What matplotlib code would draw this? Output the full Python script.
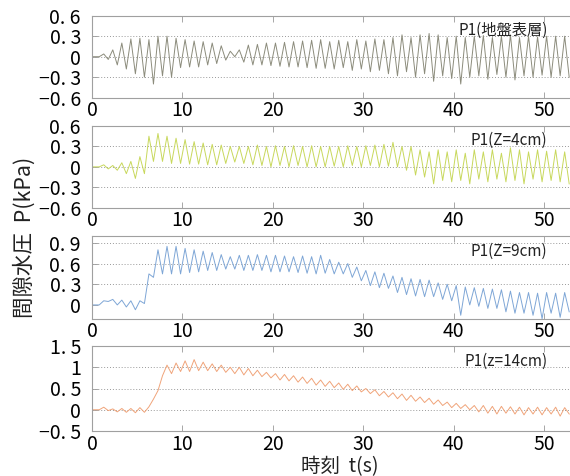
import numpy as np
import matplotlib
matplotlib.use("Agg")
import matplotlib.pyplot as plt

plt.rcParams['font.family'] = ['Liberation Sans Narrow', 'Noto Sans CJK JP', 'DejaVu Sans']

# cycle start times (s); peak read at +0.3 s, trough at +0.8 s
cycle_t = np.arange(0, 53)

# Panel 1: P1 (地盤表層)
p1_peak = [0.0, 0.04, 0.10, 0.20, 0.26, 0.27, 0.25, 0.30, 0.30, 0.27,
           0.25, 0.23, 0.22, 0.20, 0.16, 0.08, 0.10, 0.17, 0.18, 0.20,
           0.20, 0.21, 0.22, 0.23, 0.24, 0.25, 0.22, 0.24, 0.22, 0.25,
           0.23, 0.26, 0.25, 0.28, 0.32, 0.28, 0.32, 0.34, 0.32, 0.28,
           0.30, 0.28, 0.30, 0.31, 0.28, 0.30, 0.32, 0.28, 0.30, 0.29,
           0.30, 0.30, 0.30]
p1_trough = [0.0, -0.04, -0.12, -0.18, -0.25, -0.30, -0.40, -0.28, -0.30, -0.16,
             -0.15, -0.15, -0.12, -0.10, -0.05, 0.0, -0.08, -0.12, -0.12, -0.13,
             -0.14, -0.15, -0.15, -0.16, -0.17, -0.17, -0.18, -0.16, -0.20, -0.18,
             -0.22, -0.20, -0.25, -0.28, -0.22, -0.30, -0.25, -0.36, -0.28, -0.32,
             -0.40, -0.30, -0.28, -0.33, -0.26, -0.30, -0.34, -0.28, -0.30, -0.27,
             -0.30, -0.28, -0.30]

# Panel 2: P1 (Z=4cm)
p2_peak = [0.0, 0.03, 0.02, 0.06, 0.08, 0.15, 0.45, 0.49, 0.45, 0.42,
           0.40, 0.37, 0.35, 0.33, 0.32, 0.30, 0.30, 0.30, 0.32, 0.30,
           0.31, 0.30, 0.31, 0.30, 0.31, 0.30, 0.30, 0.30, 0.31, 0.30,
           0.31, 0.32, 0.33, 0.36, 0.30, 0.30, 0.25, 0.22, 0.25, 0.22,
           0.25, 0.20, 0.25, 0.22, 0.25, 0.20, 0.28, 0.25, 0.22, 0.25,
           0.23, 0.25, 0.22]
p2_trough = [0.0, -0.03, -0.05, -0.10, -0.17, -0.10, 0.08, 0.08, 0.05, 0.05,
             0.04, 0.04, 0.03, 0.03, 0.05, 0.07, 0.05, 0.03, 0.02, 0.0,
             0.02, 0.0, 0.02, 0.0, 0.0, 0.0, 0.01, 0.0, 0.02, 0.0,
             0.02, 0.0, 0.01, 0.0, -0.05, -0.12, -0.15, -0.25, -0.20, -0.22,
             -0.20, -0.25, -0.18, -0.22, -0.18, -0.22, -0.20, -0.25, -0.18, -0.22,
             -0.20, -0.22, -0.25]

# Panel 3: P1 (Z=9cm)
p3_peak = [0.0, 0.06, 0.08, 0.07, 0.06, 0.06, 0.45, 0.80, 0.85, 0.85,
           0.82, 0.80, 0.78, 0.76, 0.73, 0.70, 0.72, 0.72, 0.73, 0.72,
           0.72, 0.71, 0.70, 0.71, 0.70, 0.72, 0.66, 0.62, 0.60, 0.55,
           0.50, 0.48, 0.46, 0.42, 0.40, 0.38, 0.37, 0.36, 0.32, 0.30,
           0.28, 0.26, 0.25, 0.24, 0.23, 0.22, 0.20, 0.18, 0.18, 0.17,
           0.18, 0.17, 0.18]
p3_trough = [0.0, 0.05, 0.0, -0.03, -0.07, 0.02, 0.40, 0.45, 0.45, 0.45,
             0.47, 0.48, 0.50, 0.50, 0.52, 0.52, 0.50, 0.50, 0.50, 0.48,
             0.48, 0.48, 0.47, 0.46, 0.45, 0.46, 0.45, 0.45, 0.40, 0.35,
             0.28, 0.25, 0.24, 0.18, 0.15, 0.13, 0.12, 0.12, 0.08, 0.06,
             -0.15, 0.0, -0.02, -0.05, -0.05, -0.10, -0.12, -0.12, -0.15, -0.20,
             -0.12, -0.18, -0.10]

# Panel 4: P1 (z=14cm)
p4_peak = [0.0, 0.06, 0.02, 0.03, 0.03, 0.05, 0.07, 0.45, 1.05, 1.10,
           1.15, 1.18, 1.12, 1.08, 1.05, 1.00, 1.00, 0.97, 0.93, 0.88,
           0.85, 0.83, 0.80, 0.77, 0.74, 0.70, 0.67, 0.63, 0.60, 0.56,
           0.50, 0.47, 0.43, 0.40, 0.37, 0.34, 0.30, 0.27, 0.23, 0.18,
           0.15, 0.12, 0.10, 0.10, 0.08, 0.08, 0.07, 0.06, 0.05, 0.06,
           0.05, 0.06, 0.05]
p4_trough = [0.0, -0.02, -0.05, -0.06, -0.07, -0.06, 0.25, 0.80, 0.85, 0.90,
             0.90, 0.92, 0.92, 0.90, 0.88, 0.85, 0.82, 0.80, 0.78, 0.75,
             0.70, 0.68, 0.65, 0.62, 0.58, 0.55, 0.52, 0.48, 0.45, 0.42,
             0.38, 0.33, 0.30, 0.26, 0.22, 0.20, 0.17, 0.13, 0.10, 0.05,
             0.03, 0.0, -0.05, -0.08, -0.10, -0.08, -0.10, -0.12, -0.10, -0.12,
             -0.10, -0.15, -0.10]

panel_labels = ["P1(地盤表層)", "P1(Z=4cm)", "P1(Z=9cm)", "P1(z=14cm)"]
panel_ylims = [(-0.6, 0.6), (-0.6, 0.6), (-0.2, 1.0), (-0.5, 1.5)]
panel_yticks = [[-0.6, -0.3, 0, 0.3, 0.6], [-0.6, -0.3, 0, 0.3, 0.6],
                [0, 0.3, 0.6, 0.9], [-0.5, 0, 0.5, 1, 1.5]]
panel_yticklabels = [["−0. 6", "−0. 3", "0", "0. 3", "0. 6"],
                     ["−0. 6", "−0. 3", "0", "0. 3", "0. 6"],
                     ["0", "0. 3", "0. 6", "0. 9"],
                     ["−0. 5", "0", "0. 5", "1", "1. 5"]]
x_ticks = [0, 10, 20, 30, 40, 50]
colors = ["#8c8c7c", "#c8d85c", "#7ea6d6", "#f0a47a"]
peaks = [p1_peak, p2_peak, p3_peak, p4_peak]
troughs = [p1_trough, p2_trough, p3_trough, p4_trough]

W, H = 570, 476
fig = plt.figure(figsize=(W / 100, H / 100), dpi=100)

left_px, right_px = 92, 571
panel_px = [(15.7, 97.7), (126, 207.7), (236, 318.7), (346, 431)]

for i in range(4):
    top, bot = panel_px[i]
    ax = fig.add_axes([left_px / W, 1 - bot / H, (right_px - left_px) / W, (bot - top) / H])
    t = np.empty(2 * len(cycle_t))
    v = np.empty(2 * len(cycle_t))
    t[0::2] = cycle_t + 0.3
    t[1::2] = cycle_t + 0.8
    v[0::2] = peaks[i]
    v[1::2] = troughs[i]
    t = np.concatenate([[0.0], t])
    v = np.concatenate([[0.0], v])
    ax.plot(t, v, color=colors[i], lw=0.7)
    ax.set_xlim(0, 53)
    ax.set_ylim(*panel_ylims[i])
    ax.set_yticks(panel_yticks[i])
    ax.set_yticklabels(panel_yticklabels[i])
    ax.set_xticks(x_ticks)
    ax.set_xticklabels([str(x) for x in x_ticks])
    ax.tick_params(direction='in', length=4, width=0.6, color='#999999',
                   labelsize=14, top=True, right=False)
    ax.tick_params(axis='y', pad=8)
    ax.tick_params(axis='x', pad=2)
    for yv in panel_yticks[i][1:-1]:
        ax.axhline(yv, color='#999999', lw=0.7, ls=(0, (1, 2)), zorder=0)
    if i == 2:
        ax.axhline(0.9, color='#999999', lw=0.7, ls=(0, (1, 2)), zorder=0)
    for s in ax.spines.values():
        s.set_color('#a0a0a0')
        s.set_linewidth(0.8)
    ax.spines['right'].set_visible(False)
    yl = panel_ylims[i]
    ax.text(50.4, yl[0] + (yl[1] - yl[0]) * 0.82, panel_labels[i],
            ha='right', va='center', fontsize=11, color='#222222')

fig.text(25 / W, 1 - 237 / H, "間隙水圧  P(kPa)", rotation=90, ha='center', va='center',
         fontsize=15.5, color='#222222')
fig.text(340 / W, 1 - 467 / H, "時刻  t(s)", ha='center', va='center',
         fontsize=14, color='#222222')

fig.savefig("out.png", dpi=100)
